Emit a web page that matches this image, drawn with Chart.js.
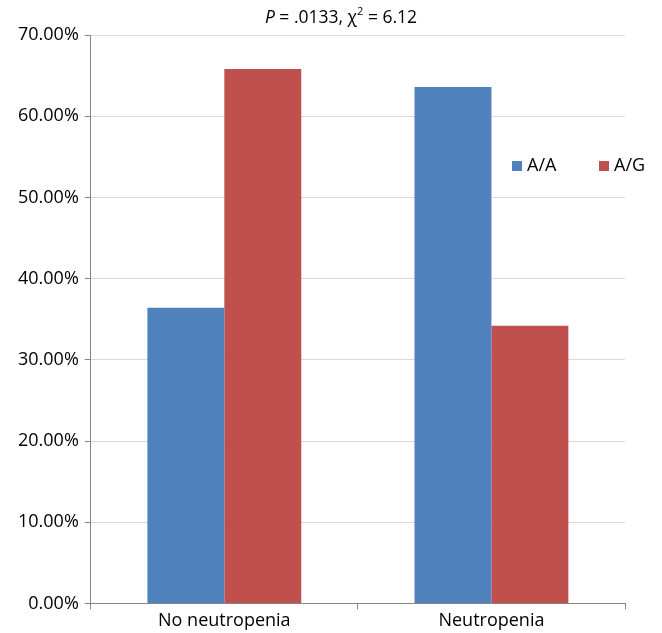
<!DOCTYPE html>
<html>
<head>
<meta charset="utf-8">
<script src="https://cdn.jsdelivr.net/npm/chart.js@4.4.0/dist/chart.umd.min.js"></script>
<style>
html,body{margin:0;padding:0;background:#fff;}
#wrap{width:662px;height:633px;position:relative;}
</style>
</head>
<body>
<div id="wrap"><canvas id="c"></canvas></div>
<script>
const categories = ["No neutropenia", "Neutropenia"];
const seriesNames = ["A/A", "A/G"];
const valuesAA = [36.4, 63.6];
const valuesAG = [65.8, 34.2];
const yTicks = [0, 10, 20, 30, 40, 50, 60, 70];
const colors = ["#4F81BD", "#C0504D"];
const FONT = "'Open Sans', sans-serif";

const titlePlugin = {
  id: 'mixedTitle',
  afterDraw(chart) {
    const ctx = chart.ctx;
    const segs = [
      {t: "P", f: "italic 17.5px " + FONT, dy: 0},
      {t: " = .0133, \u03C7", f: "17.5px " + FONT, dy: 0},
      {t: "2", f: "11px " + FONT, dy: -6},
      {t: " = 6.12", f: "17.5px " + FONT, dy: 0}
    ];
    ctx.save();
    let total = 0;
    segs.forEach(s => { ctx.font = s.f; s.w = ctx.measureText(s.t).width; total += s.w; });
    let x = 341 - total / 2;
    const y = 18;
    ctx.fillStyle = "#000";
    ctx.textBaseline = "middle";
    segs.forEach(s => { ctx.font = s.f; ctx.fillText(s.t, x, y + s.dy); x += s.w; });
    ctx.restore();
  }
};

const legendPlugin = {
  id: 'innerLegend',
  afterDraw(chart) {
    const ctx = chart.ctx;
    const positions = [512, 599];
    const y = 166;
    ctx.save();
    ctx.font = "18px " + FONT;
    ctx.textBaseline = "middle";
    chart.data.datasets.forEach((ds, i) => {
      ctx.fillStyle = ds.backgroundColor;
      ctx.fillRect(positions[i], y - 5, 10, 10);
      ctx.fillStyle = "#000";
      ctx.fillText(ds.label, positions[i] + 15, y);
    });
    ctx.restore();
  }
};

new Chart(document.getElementById('c'), {
  type: 'bar',
  data: {
    labels: categories,
    datasets: [
      {label: seriesNames[0], data: valuesAA, backgroundColor: colors[0]},
      {label: seriesNames[1], data: valuesAG, backgroundColor: colors[1]}
    ]
  },
  options: {
    responsive: true,
    maintainAspectRatio: false,
    animation: false,
    devicePixelRatio: 1,
    layout: {padding: {top: 35, right: 37, bottom: 0, left: 12}},
    plugins: {legend: {display: false}, tooltip: {enabled: false}},
    datasets: {bar: {barPercentage: 1, categoryPercentage: 0.576}},
    scales: {
      x: {
        grid: {display: true, drawOnChartArea: false, offset: true, color: "#868686", tickLength: 6},
        border: {color: "#868686"},
        ticks: {color: "#000", font: {family: FONT, size: 18}, padding: 1}
      },
      y: {
        min: 0, max: 70,
        afterBuildTicks(axis) { axis.ticks = yTicks.map(v => ({value: v})); },
        grid: {color: "#d9d9d9", tickLength: 6, tickColor: "#868686"},
        border: {color: "#868686"},
        ticks: {color: "#000", font: {family: FONT, size: 18}, padding: 6,
          callback: v => v.toFixed(2) + "%"}
      }
    }
  },
  plugins: [titlePlugin, legendPlugin]
});
</script>
</body>
</html>
